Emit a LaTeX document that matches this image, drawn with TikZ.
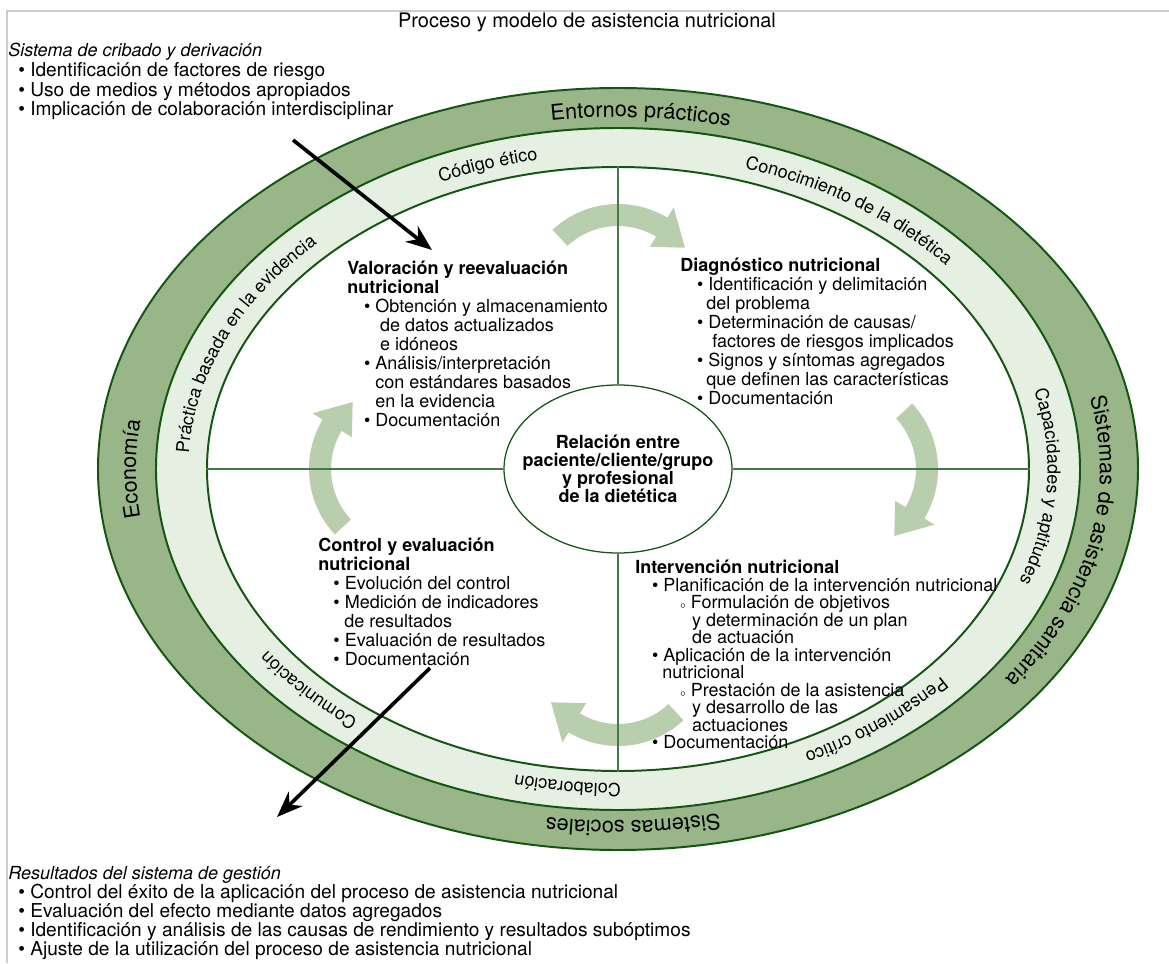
\documentclass[tikz,border=0pt]{standalone}
\usepackage{fontspec}
\setmainfont{TeX Gyre Heros}
\usepackage{tikz}
\usetikzlibrary{shapes.geometric,arrows.meta,positioning,decorations.text}

\definecolor{ringdark}{RGB}{152,182,136}
\definecolor{ringlight}{RGB}{230,240,226}
\definecolor{ringline}{RGB}{20,85,20}
\definecolor{crossline}{RGB}{70,120,70}
\definecolor{cyclegreen}{RGB}{184,206,172}
\definecolor{framegray}{RGB}{205,205,205}

\begin{document}
\begin{tikzpicture}[
  font=\fontsize{12.8}{13.5}\selectfont,
  ring/.style={ellipse, draw=ringline, line width=1.4pt, inner sep=0pt},
  cross/.style={draw=crossline, line width=0.9pt},
  cyclearrow/.style={fill=cyclegreen},
  block/.style={align=left, inner sep=0pt, anchor=north west},
  listblock/.style={block, font=\fontsize{13.6}{14}\selectfont},
  ptr/.style={-{Stealth[length=6.5mm,width=5mm]}, line width=2.6pt},
  outerlabel/.style={decorate, decoration={text along path, text align=center,
      text={|\fontsize{15.4}{15.4}\selectfont|#1}}},
  innerlabel/.style={decorate, decoration={text along path, text align=center,
      text={|\fontsize{12.8}{12.8}\selectfont|#1}}}
]
\useasboundingbox (-15.45,-12.35) rectangle (13.775,11.725);
\draw[framegray, line width=0.8pt] (13.775,11.45) -- (-15.275,11.45) -- (-15.275,-12.35);

% rings
\node[ring, fill=ringdark, minimum width=26cm, minimum height=19.05cm] (outer) at (0,0) {};
\node[ring, fill=ringlight, minimum width=23.1cm, minimum height=17.05cm] (mid) at (0,0) {};
\node[ring, fill=white, minimum width=20.55cm, minimum height=15.1cm] (inner) at (0,0) {};

% cycle arrows
\foreach \cx/\cy/\ang in {0/4.225/90, 5.6/0/0, 0/-4.525/-90, -5.325/0/180}
  \fill[cyclearrow, shift={(\cx,\cy)}, rotate=\ang]
    (43:2.4) arc[start angle=43, end angle=-31, radius=2.4]
    -- (-31:2.7) -- (-52:2.125) -- (-31:1.55) -- (-31:1.85)
    arc[start angle=-31, end angle=43, radius=1.85] -- cycle;

\node[ring, fill=white, line width=0.9pt, minimum width=5.7cm, minimum height=4.2cm] (rel) at (0,0) {};
\draw[cross] (rel.north) -- (inner.north);
\draw[cross] (rel.south) -- (inner.south);
\draw[cross] (rel.west) -- (inner.west);
\draw[cross] (rel.east) -- (inner.east);

% ring labels
\path[outerlabel={Entornos prácticos}] (127:12.05 and 8.8) arc[start angle=127, end angle=47, x radius=12.05, y radius=8.8];
\path[outerlabel={Sistemas de asistencia sanitaria}] (36:12.05 and 8.8) arc[start angle=36, end angle=-58, x radius=12.05, y radius=8.8];
\path[outerlabel={Sistemas sociales}] (-48:12.05 and 8.8) arc[start angle=-48, end angle=-128, x radius=12.05, y radius=8.8];
\path[outerlabel={Economía}] (220:12.05 and 8.8) arc[start angle=220, end angle=140, x radius=12.05, y radius=8.8];
\path[innerlabel={Código ético}] (128:10.74 and 7.87) arc[start angle=128, end angle=88, x radius=10.74, y radius=7.87];
\path[innerlabel={Conocimiento de la dietética}] (87:10.74 and 7.87) arc[start angle=87, end angle=23, x radius=10.74, y radius=7.87];
\path[innerlabel={Capacidades y aptitudes}] (27:10.74 and 7.87) arc[start angle=27, end angle=-33, x radius=10.74, y radius=7.87];
\path[innerlabel={Pensamiento crítico}] (-21:10.74 and 7.87) arc[start angle=-21, end angle=-81, x radius=10.74, y radius=7.87];
\path[innerlabel={Colaboración}] (-72:10.74 and 7.87) arc[start angle=-72, end angle=-122, x radius=10.74, y radius=7.87];
\path[innerlabel={Comunicación}] (252:10.74 and 7.87) arc[start angle=252, end angle=192, x radius=10.74, y radius=7.87];
\path[innerlabel={Práctica basada en la evidencia}] (200:10.74 and 7.87) arc[start angle=200, end angle=116, x radius=10.74, y radius=7.87];

% texts
\node[font=\fontsize{14.2}{17}\selectfont] (title) at (-0.775,11.175) {Proceso y modelo de asistencia nutricional};
\node[align=center, font=\fontsize{12.8}{12.8}\selectfont\bfseries] (reltxt) at (rel.center)
  {Relación entre\\paciente/cliente/grupo\\y profesional\\de la dietética};

\node[listblock] (crib) at (-15.25,10.65) {{\fontsize{12.8}{14}\selectfont\itshape Sistema de cribado y derivación}\\
  \hspace*{0.25cm}\textbullet\ Identificación de factores de riesgo\\
  \hspace*{0.25cm}\textbullet\ Uso de medios y métodos apropiados\\
  \hspace*{0.25cm}\textbullet\ Implicación de colaboración interdisciplinar};

\node[block] (val) at (-6.775,5.2) {\textbf{Valoración y reevaluación}\\
  \textbf{nutricional}\\
  \hspace*{0.42cm}\textbullet\ Obtención y almacenamiento\\
  \hspace*{0.82cm}de datos actualizados\\
  \hspace*{0.82cm}e idóneos\\
  \hspace*{0.42cm}\textbullet\ Análisis/interpretación\\
  \hspace*{0.7cm}con estándares basados\\
  \hspace*{0.7cm}en la evidencia\\
  \hspace*{0.42cm}\textbullet\ Documentación};

\node[block] (diag) at (1.55,5.275) {\textbf{Diagnóstico nutricional}\\
  \hspace*{0.42cm}\textbullet\ Identificación y delimitación\\
  \hspace*{0.65cm}del problema\\
  \hspace*{0.42cm}\textbullet\ Determinación de causas/\\
  \hspace*{0.8cm}factores de riesgos implicados\\
  \hspace*{0.42cm}\textbullet\ Signos y síntomas agregados\\
  \hspace*{0.65cm}que definen las características\\
  \hspace*{0.42cm}\textbullet\ Documentación};

\node[block] (ctrl) at (-7.5,-1.725) {\textbf{Control y evaluación}\\
  \textbf{nutricional}\\
  \hspace*{0.38cm}\textbullet\ Evolución del control\\
  \hspace*{0.38cm}\textbullet\ Medición de indicadores\\
  \hspace*{0.65cm}de resultados\\
  \hspace*{0.38cm}\textbullet\ Evaluación de resultados\\
  \hspace*{0.38cm}\textbullet\ Documentación};

\node[block, font=\fontsize{12.8}{12.45}\selectfont] (interv) at (0.425,-2.275) {\textbf{Intervención nutricional}\\
  \hspace*{0.42cm}\textbullet\ Planificación de la intervención nutricional\\
  \hspace*{1.12cm}{\scriptsize$\circ$} Formulación de objetivos\\
  \hspace*{1.42cm}y determinación de un plan\\
  \hspace*{1.42cm}de actuación\\
  \hspace*{0.42cm}\textbullet\ Aplicación de la intervención\\
  \hspace*{0.68cm}nutricional\\
  \hspace*{1.12cm}{\scriptsize$\circ$} Prestación de la asistencia\\
  \hspace*{1.42cm}y desarrollo de las\\
  \hspace*{1.42cm}actuaciones\\
  \hspace*{0.42cm}\textbullet\ Documentación};

\node[listblock, font=\fontsize{13.6}{13.5}\selectfont] (res) at (-15.25,-9.925) {{\fontsize{12.8}{13.5}\selectfont\itshape Resultados del sistema de gestión}\\
  \hspace*{0.25cm}\textbullet\ Control del éxito de la aplicación del proceso de asistencia nutricional\\
  \hspace*{0.25cm}\textbullet\ Evaluación del efecto mediante datos agregados\\
  \hspace*{0.25cm}\textbullet\ Identificación y análisis de las causas de rendimiento y resultados subóptimos\\
  \hspace*{0.25cm}\textbullet\ Ajuste de la utilización del proceso de asistencia nutricional};

% in and out arrows
\coordinate (cribstart) at (-8.125,8.225);
\coordinate (cribend) at (-4.65,5.475);
\coordinate (resstart) at (-4.7,-4.975);
\coordinate (resend) at (-8.525,-8.7);
\draw[ptr] (cribstart) -- (cribend);
\draw[ptr] (resstart) -- (resend);
\end{tikzpicture}
\end{document}
